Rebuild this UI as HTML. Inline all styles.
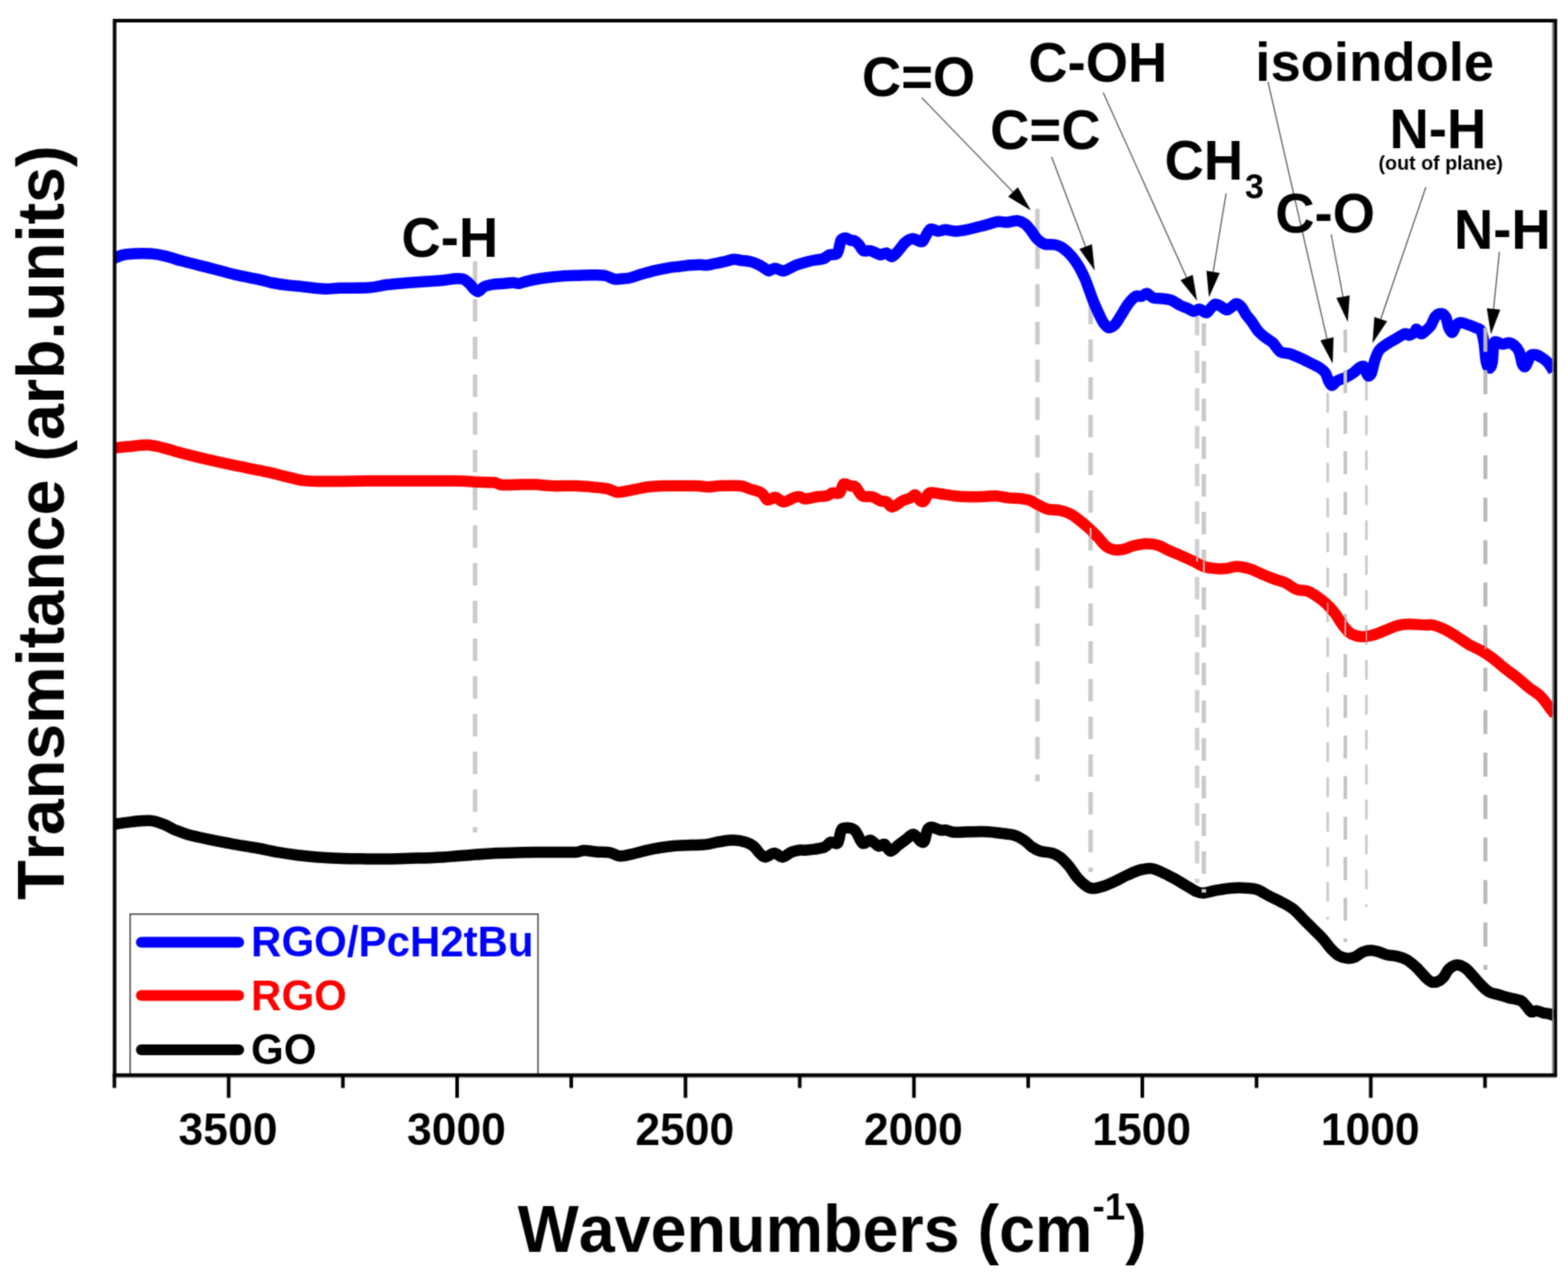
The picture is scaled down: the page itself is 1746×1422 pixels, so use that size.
<!DOCTYPE html>
<html lang="en"><head><meta charset="utf-8"><title>FTIR spectra</title>
<style>
html,body{margin:0;padding:0;background:#fff;}
body{width:1746px;height:1422px;overflow:hidden;}
svg{display:block;font-family:"Liberation Sans",Arial,Helvetica,sans-serif;font-weight:bold;font-kerning:none;}
.lab{font-size:60.6px;fill:#000;}
.tick{font-size:49.5px;fill:#000;text-anchor:middle;}
.ttl{font-size:72px;fill:#000;}
.leg{font-size:46.8px;}
.cv{fill:none;stroke-width:12.5;stroke-linejoin:round;stroke-linecap:butt;}
.ar{stroke:#4a4a4a;stroke-width:1.2;fill:none;}
.ah{fill:#000;stroke:none;}
</style></head><body>
<svg width="1746" height="1422" viewBox="0 0 1746 1422">
<defs><filter id="soft" x="0" y="0" width="1746" height="1422" filterUnits="userSpaceOnUse" color-interpolation-filters="sRGB"><feConvolveMatrix order="3" kernelMatrix="0.0400 0.1200 0.0400 0.1200 0.3600 0.1200 0.0400 0.1200 0.0400" divisor="1" edgeMode="duplicate" preserveAlpha="true"/></filter></defs>
<g id="figure" filter="url(#soft)">
<rect x="0" y="0" width="1746" height="1422" fill="#fff"/>
<defs><mask id="redband" maskUnits="userSpaceOnUse" x="0" y="0" width="1746" height="1422"><path d="M127.8,498.9C130.2,498.6 136.1,497.9 142.2,497.3C148.3,496.8 157.7,495.3 164.4,495.6C171.1,495.9 175.5,497.3 182.2,498.9C188.9,500.5 196.2,503.0 204.4,505.1C212.6,507.2 221.1,509.3 231.1,511.6C241.1,513.9 253.3,516.6 264.4,518.9C275.5,521.2 288.5,523.6 297.8,525.6C307.1,527.6 313.3,529.5 320.0,531.1C326.7,532.7 331.9,534.3 337.8,535.1C343.7,535.9 348.9,535.9 355.6,536.0C362.3,536.1 368.9,536.1 377.8,536.0C386.7,535.9 396.3,535.7 408.9,535.6C421.5,535.5 436.8,535.6 453.3,535.6C469.8,535.6 495.2,535.4 508.0,535.6C520.8,535.8 523.2,536.4 530.2,536.7C537.2,537.0 545.4,536.8 550.2,537.3C555.0,537.8 553.9,539.6 559.1,540.0C564.3,540.4 575.0,539.7 581.3,539.6C587.6,539.5 591.3,539.4 596.9,539.6C602.5,539.9 607.3,540.9 614.7,541.1C622.1,541.4 633.1,540.8 641.3,541.1C649.4,541.4 657.7,542.2 663.6,542.7C669.5,543.2 672.8,543.5 676.9,544.4C681.0,545.3 683.5,548.0 688.0,548.2C692.5,548.4 698.1,546.6 703.6,545.6C709.1,544.6 715.4,543.0 721.3,542.2C727.2,541.5 730.2,541.3 739.1,541.1C748.0,540.9 766.6,540.9 774.7,541.1C782.9,541.3 783.6,542.2 788.0,542.2C792.4,542.2 795.4,541.3 801.3,541.1C807.2,540.9 818.0,540.6 823.6,541.1C829.2,541.6 830.6,543.1 834.7,544.4C838.8,545.7 844.7,546.8 848.0,548.9C851.3,551.0 852.1,555.9 854.7,556.7C857.3,557.5 860.7,553.4 863.6,553.8C866.5,554.2 869.1,558.8 872.4,558.9C875.7,559.0 880.6,555.4 883.6,554.4C886.6,553.4 888.1,552.7 890.2,552.9C892.3,553.1 892.8,555.5 896.0,555.6C899.2,555.7 905.2,553.9 909.3,553.3C913.4,552.7 917.4,552.9 920.4,552.2C923.4,551.5 924.7,549.5 927.1,548.9C929.5,548.3 932.9,550.6 934.9,548.9C936.9,547.2 937.3,540.2 939.3,538.9C941.3,537.6 944.9,540.5 947.1,541.1C949.3,541.7 950.5,540.4 952.7,542.2C954.9,544.1 957.2,550.4 960.4,552.2C963.5,554.1 968.3,552.4 971.6,553.3C974.9,554.2 977.8,556.9 980.4,557.8C983.0,558.7 984.9,557.8 987.1,558.9C989.3,560.0 990.8,564.6 993.8,564.4C996.8,564.2 1001.6,559.5 1004.9,557.8C1008.2,556.1 1011.4,555.5 1013.8,554.4C1016.2,553.3 1017.4,550.5 1019.3,551.1C1021.1,551.7 1023.2,556.7 1024.9,557.8C1026.6,558.9 1027.6,559.3 1029.3,557.8C1031.0,556.3 1031.9,550.2 1034.9,548.9C1037.9,547.6 1042.5,549.5 1047.1,550.0C1051.7,550.5 1057.2,551.7 1062.7,552.2C1068.2,552.8 1074.9,553.2 1080.4,553.3C1086.0,553.4 1091.2,553.1 1096.0,552.9C1100.8,552.7 1104.8,552.0 1109.3,552.2C1113.8,552.5 1118.2,553.9 1122.7,554.4C1127.2,554.9 1131.9,554.6 1136.0,555.1C1140.1,555.6 1143.8,556.1 1147.1,557.3C1150.4,558.5 1152.7,560.6 1156.0,562.2C1159.3,563.8 1163.0,566.1 1167.1,567.1C1171.2,568.1 1176.3,567.5 1180.4,568.4C1184.5,569.2 1188.3,570.6 1191.6,572.2C1194.9,573.8 1196.4,575.0 1200.0,577.8C1203.6,580.6 1209.6,585.6 1213.3,588.9C1217.0,592.2 1219.2,594.6 1222.2,597.8C1225.2,600.9 1228.1,605.4 1231.1,607.8C1234.1,610.2 1236.7,611.6 1240.0,612.2C1243.3,612.8 1247.4,612.3 1251.1,611.6C1254.8,610.9 1258.1,608.8 1262.2,607.8C1266.3,606.8 1271.1,605.7 1275.6,605.6C1280.0,605.5 1284.5,605.8 1288.9,607.1C1293.3,608.4 1297.8,611.3 1302.2,613.3C1306.7,615.3 1311.1,617.0 1315.6,618.9C1320.0,620.8 1324.8,622.9 1328.9,624.9C1333.0,626.9 1335.5,629.3 1340.0,630.7C1344.5,632.1 1351.1,632.9 1355.6,633.3C1360.0,633.7 1363.0,633.3 1366.7,632.9C1370.4,632.5 1373.7,630.6 1377.8,630.7C1381.9,630.8 1386.7,631.9 1391.1,633.3C1395.5,634.7 1400.0,637.0 1404.4,638.9C1408.9,640.8 1413.3,642.7 1417.8,644.4C1422.2,646.1 1426.7,646.8 1431.1,648.9C1435.5,651.0 1440.3,655.2 1444.4,656.7C1448.5,658.2 1451.9,656.9 1455.6,658.2C1459.3,659.5 1463.0,661.9 1466.7,664.4C1470.4,666.9 1474.5,670.1 1477.8,673.3C1481.1,676.4 1483.7,679.4 1486.7,683.3C1489.7,687.2 1492.6,693.0 1495.6,696.7C1498.5,700.4 1501.1,703.6 1504.4,705.6C1507.7,707.6 1511.5,708.6 1515.6,708.9C1519.7,709.1 1524.5,708.2 1528.9,707.1C1533.3,706.0 1537.8,703.9 1542.2,702.2C1546.7,700.5 1551.1,697.9 1555.6,696.7C1560.0,695.5 1563.5,695.2 1568.9,695.1C1574.3,695.0 1583.5,695.9 1588.0,696.0C1592.5,696.1 1592.3,695.1 1595.8,696.0C1599.3,696.9 1604.7,699.0 1609.1,701.1C1613.5,703.2 1618.0,706.1 1622.4,708.9C1626.9,711.7 1631.3,715.2 1635.8,717.8C1640.2,720.4 1644.7,721.8 1649.1,724.4C1653.5,727.0 1658.0,730.0 1662.4,733.3C1666.9,736.6 1671.3,740.9 1675.8,744.4C1680.2,747.9 1684.7,750.9 1689.1,754.4C1693.5,757.9 1698.0,762.1 1702.4,765.6C1706.9,769.1 1711.7,771.5 1715.8,775.6C1719.9,779.7 1724.3,786.7 1726.9,790.0C1729.5,793.3 1730.6,794.7 1731.3,795.6" fill="none" stroke="#fff" stroke-width="11.5" stroke-linejoin="round"/></mask></defs>
<defs><clipPath id="plot"><rect x="127.6" y="22.9" width="1604.0" height="1174.3"/></clipPath></defs>
<g id="legend">
<rect x="144.9" y="1017.9" width="454.2" height="179" fill="#fff" stroke="#555" stroke-width="1.7"/>
<line x1="157.4" y1="1049.3" x2="265.8" y2="1049.3" stroke="#0000ff" stroke-width="12" stroke-linecap="round"/>
<text class="leg" transform="translate(279.6 1065.3) scale(1 1.04)" fill="#0000ff">RGO/PcH2tBu</text>
<line x1="157.4" y1="1108.4" x2="265.8" y2="1108.4" stroke="#ff0000" stroke-width="12" stroke-linecap="round"/>
<text class="leg" transform="translate(279.6 1124.5) scale(1 1.04)" fill="#ff0000">RGO</text>
<line x1="157.4" y1="1169.0" x2="265.8" y2="1169.0" stroke="#000000" stroke-width="12" stroke-linecap="round"/>
<text class="leg" transform="translate(279.6 1184.8) scale(1 1.04)" fill="#000000">GO</text>
</g>
<g id="curves" clip-path="url(#plot)">
<path id="go" class="cv" stroke="#000000" d="M127.8,917.8C130.9,917.3 140.2,915.8 146.7,915.1C153.2,914.4 160.8,913.3 166.7,913.8C172.6,914.2 177.4,916.0 182.2,917.8C187.0,919.6 191.1,922.5 195.6,924.4C200.1,926.3 203.0,927.6 208.9,929.3C214.8,931.0 222.9,932.7 231.1,934.4C239.2,936.1 248.9,938.0 257.8,939.6C266.7,941.2 275.9,942.5 284.4,944.0C292.9,945.5 301.1,947.5 308.9,948.9C316.7,950.3 323.7,951.3 331.1,952.2C338.5,953.1 344.8,953.8 353.3,954.4C361.8,955.0 372.9,955.7 382.2,956.0C391.5,956.3 400.0,956.3 408.9,956.4C417.8,956.5 426.4,956.5 435.6,956.4C444.9,956.3 454.8,955.9 464.4,955.6C474.0,955.3 486.0,954.8 493.3,954.4C500.6,954.0 501.9,953.8 508.0,953.3C514.1,952.8 522.8,952.1 530.2,951.6C537.6,951.1 543.9,950.4 552.4,950.0C560.9,949.6 570.9,949.5 581.3,949.3C591.7,949.1 604.7,949.0 614.7,948.9C624.7,948.8 635.4,949.2 641.3,948.9C647.2,948.6 646.5,947.2 650.2,947.1C653.9,947.0 658.8,948.0 663.6,948.4C668.4,948.8 674.7,948.5 679.1,949.3C683.5,950.1 686.1,953.0 690.2,953.3C694.3,953.6 698.8,952.1 703.6,951.1C708.4,950.1 713.9,948.3 719.1,947.1C724.3,945.9 729.2,944.9 734.7,944.0C740.2,943.1 746.5,942.3 752.4,941.8C758.3,941.3 764.6,941.3 770.2,941.1C775.8,940.9 780.6,941.0 785.8,940.4C791.0,939.8 796.1,938.1 801.3,937.3C806.5,936.5 812.1,935.5 816.9,935.6C821.7,935.7 826.5,936.7 830.2,937.8C833.9,938.9 836.5,940.2 839.1,942.2C841.7,944.2 843.6,948.0 845.8,950.0C848.0,952.0 849.6,954.4 852.4,954.4C855.2,954.4 859.2,950.0 862.4,950.0C865.5,950.0 868.1,954.6 871.3,954.4C874.4,954.2 878.1,950.2 881.3,948.9C884.4,947.6 887.8,947.1 890.2,946.7C892.7,946.3 893.2,946.9 896.0,946.7C898.8,946.5 903.4,946.2 907.1,945.6C910.8,945.0 915.2,944.6 918.2,943.3C921.2,942.0 922.5,938.5 924.9,937.8C927.3,937.1 930.9,940.8 932.7,938.9C934.6,937.0 934.9,929.5 936.0,926.7C937.1,923.9 936.7,922.6 939.3,922.2C941.9,921.8 948.1,921.6 951.6,924.4C955.1,927.2 957.5,937.0 960.4,938.9C963.3,940.8 966.3,935.0 969.3,935.6C972.3,936.2 975.6,941.5 978.2,942.2C980.8,942.9 982.7,939.1 984.9,940.0C987.1,940.9 989.0,947.6 991.6,947.8C994.2,948.0 997.5,943.3 1000.4,941.1C1003.3,938.9 1006.5,936.4 1009.3,934.4C1012.1,932.4 1014.5,928.5 1017.1,928.9C1019.7,929.3 1022.9,935.4 1024.9,936.7C1026.9,938.0 1028.0,938.8 1029.3,936.7C1030.6,934.7 1031.4,927.0 1032.7,924.4C1034.0,921.8 1034.7,921.1 1037.1,921.1C1039.5,921.1 1044.3,923.9 1047.1,924.4C1049.9,924.9 1051.2,924.0 1053.8,924.4C1056.4,924.8 1058.3,926.4 1062.7,926.7C1067.1,927.0 1074.1,926.3 1080.4,926.2C1086.7,926.1 1094.8,925.9 1100.4,926.2C1106.0,926.5 1109.0,927.2 1113.8,927.8C1118.6,928.4 1124.9,928.7 1129.3,930.0C1133.7,931.3 1137.1,933.4 1140.4,935.6C1143.7,937.8 1146.3,941.3 1149.3,943.3C1152.3,945.3 1154.5,946.7 1158.2,947.8C1161.9,948.9 1167.9,948.9 1171.6,950.0C1175.3,951.1 1177.5,952.2 1180.4,954.4C1183.4,956.6 1186.3,959.8 1189.3,963.3C1192.3,966.8 1196.4,973.2 1198.2,975.6C1200.0,978.0 1198.6,976.3 1200.0,977.8C1201.4,979.3 1204.1,982.5 1206.7,984.4C1209.3,986.3 1211.9,988.9 1215.6,989.3C1219.3,989.7 1224.5,988.1 1228.9,986.7C1233.3,985.3 1237.8,983.2 1242.2,981.1C1246.7,979.0 1251.1,976.4 1255.6,974.4C1260.0,972.4 1264.5,970.1 1268.9,968.9C1273.3,967.7 1278.1,966.7 1282.2,967.1C1286.3,967.5 1289.2,969.3 1293.3,971.1C1297.4,972.9 1302.2,975.4 1306.7,977.8C1311.2,980.2 1315.9,983.2 1320.0,985.6C1324.1,988.0 1327.8,990.7 1331.1,992.2C1334.4,993.7 1335.9,994.6 1340.0,994.4C1344.1,994.2 1350.4,992.0 1355.6,991.1C1360.8,990.2 1365.5,989.3 1371.1,988.9C1376.6,988.5 1384.1,988.6 1388.9,988.9C1393.7,989.2 1395.9,989.2 1400.0,990.7C1404.1,992.2 1408.8,995.5 1413.3,997.8C1417.8,1000.1 1422.2,1002.0 1426.7,1004.4C1431.2,1006.8 1435.9,1009.1 1440.0,1012.2C1444.1,1015.4 1447.4,1019.6 1451.1,1023.3C1454.8,1027.0 1458.5,1030.7 1462.2,1034.4C1465.9,1038.1 1470.0,1041.9 1473.3,1045.6C1476.6,1049.3 1479.2,1053.6 1482.2,1056.7C1485.2,1059.8 1488.1,1062.7 1491.1,1064.4C1494.1,1066.1 1497.0,1066.9 1500.0,1067.1C1503.0,1067.3 1505.9,1066.8 1508.9,1065.6C1511.9,1064.4 1514.8,1061.2 1517.8,1060.0C1520.8,1058.8 1523.7,1058.2 1526.7,1058.2C1529.7,1058.2 1532.6,1059.2 1535.6,1060.0C1538.5,1060.8 1541.1,1062.5 1544.4,1063.3C1547.7,1064.1 1551.9,1064.0 1555.6,1064.9C1559.3,1065.8 1563.0,1066.8 1566.7,1068.9C1570.4,1071.1 1574.2,1074.5 1577.8,1077.8C1581.3,1081.1 1585.4,1086.3 1588.0,1088.9C1590.6,1091.5 1591.6,1092.6 1593.6,1093.3C1595.6,1094.0 1598.0,1094.0 1600.2,1093.3C1602.4,1092.6 1604.7,1091.3 1606.9,1088.9C1609.1,1086.5 1611.0,1081.3 1613.6,1078.9C1616.2,1076.5 1619.5,1074.6 1622.4,1074.4C1625.4,1074.2 1628.3,1075.8 1631.3,1077.8C1634.3,1079.8 1637.2,1083.5 1640.2,1086.7C1643.2,1089.9 1646.1,1093.8 1649.1,1096.7C1652.1,1099.7 1654.7,1102.6 1658.0,1104.4C1661.3,1106.2 1665.4,1106.7 1669.1,1107.8C1672.8,1108.9 1676.1,1110.0 1680.2,1111.1C1684.3,1112.2 1690.3,1112.7 1693.6,1114.4C1696.9,1116.1 1698.3,1119.0 1700.2,1121.1C1702.1,1123.1 1702.9,1126.0 1704.7,1126.7C1706.5,1127.5 1709.1,1125.4 1711.3,1125.6C1713.5,1125.8 1715.8,1127.2 1718.0,1127.8C1720.2,1128.3 1722.5,1128.4 1724.7,1128.9C1726.9,1129.5 1730.2,1130.7 1731.3,1131.1"/>
<g id="guides-a">
<line x1="529.0" y1="291.0" x2="529.0" y2="927.0" stroke="#cacaca" stroke-width="5.00" stroke-dasharray="25 17"/>
<line x1="1155.2" y1="232.5" x2="1155.2" y2="870.0" stroke="#cacaca" stroke-width="5.00" stroke-dasharray="25 17"/>
<line x1="1214.4" y1="336.0" x2="1214.4" y2="971.0" stroke="#cacaca" stroke-width="5.00" stroke-dasharray="25 17"/>
<line x1="1333.0" y1="348.5" x2="1333.0" y2="983.0" stroke="#cfcfcf" stroke-width="5.00" stroke-dasharray="25 17"/>
<line x1="1340.5" y1="360.0" x2="1340.5" y2="994.0" stroke="#cacaca" stroke-width="5.00" stroke-dasharray="25 17"/>
<line x1="1478.4" y1="437.5" x2="1478.4" y2="1024.0" stroke="#cdcdcd" stroke-width="3.00" stroke-dasharray="22 16.9"/>
<line x1="1521.5" y1="423.7" x2="1521.5" y2="1010.0" stroke="#cdcdcd" stroke-width="3.00" stroke-dasharray="22 16.9"/>
</g>
<path id="rgo-pc" class="cv" stroke="#0000ff" d="M127.5,287.5C129.6,286.8 133.2,284.1 140.0,283.3C146.8,282.5 160.5,282.1 168.3,282.5C176.1,282.9 180.9,284.4 186.7,285.8C192.5,287.2 195.0,288.6 203.3,290.8C211.6,293.0 227.0,296.7 236.7,299.2C246.4,301.7 253.4,303.9 261.7,305.8C270.0,307.7 279.8,309.3 286.7,310.8C293.6,312.3 297.8,313.9 303.3,315.0C308.9,316.1 314.4,316.8 320.0,317.5C325.6,318.2 329.8,318.5 336.7,319.2C343.6,319.9 354.8,321.4 361.7,321.7C368.6,322.0 370.1,321.0 378.3,320.8C386.5,320.6 402.2,320.9 411.0,320.3C419.8,319.7 424.1,317.9 431.0,317.0C437.9,316.1 444.9,315.6 452.7,315.0C460.5,314.4 470.8,313.8 477.7,313.3C484.6,312.8 489.3,312.5 494.3,312.0C499.3,311.5 504.1,310.5 507.7,310.3C511.3,310.1 513.5,309.9 516.0,310.8C518.5,311.7 520.8,314.0 522.7,315.8C524.7,317.6 526.0,320.2 527.7,321.7C529.4,323.2 530.8,325.1 532.7,324.7C534.6,324.3 536.5,320.5 539.3,319.2C542.1,317.9 545.7,317.3 549.3,316.7C552.9,316.1 557.4,316.1 561.0,315.8C564.6,315.5 568.2,314.7 571.0,314.7C573.8,314.7 575.2,316.0 577.7,315.8C580.2,315.6 581.8,314.3 586.0,313.3C590.2,312.3 597.2,310.9 602.7,310.0C608.2,309.1 612.4,308.6 619.3,308.0C626.2,307.4 637.3,307.0 644.3,306.7C651.2,306.4 656.0,306.2 661.0,306.3C666.0,306.4 670.4,306.2 674.3,307.0C678.2,307.8 681.0,310.2 684.3,310.8C687.6,311.4 691.3,310.6 694.3,310.3C697.2,310.0 698.5,310.1 702.0,309.2C705.5,308.3 710.8,306.3 715.3,305.0C719.8,303.7 724.0,302.4 728.7,301.3C733.4,300.2 739.0,299.1 743.7,298.3C748.4,297.5 752.8,297.2 757.0,296.7C761.2,296.2 765.1,295.6 768.7,295.3C772.3,295.0 775.7,294.7 778.7,294.7C781.8,294.7 784.2,295.5 787.0,295.3C789.8,295.1 792.2,294.3 795.3,293.7C798.3,293.1 801.7,292.5 805.3,291.7C808.9,290.9 813.7,289.0 817.0,288.7C820.3,288.4 822.2,289.6 825.3,290.0C828.3,290.4 832.0,290.5 835.3,291.3C838.6,292.1 842.5,293.7 845.3,295.0C848.1,296.3 850.2,298.1 852.0,299.2C853.8,300.3 854.4,301.8 856.2,301.7C858.0,301.6 860.3,298.7 862.8,298.7C865.3,298.7 869.1,301.3 871.2,301.7C873.3,302.1 872.9,301.8 875.3,300.8C877.6,299.8 882.2,297.1 885.3,295.8C888.4,294.5 890.4,294.0 893.7,293.0C897.0,292.0 901.4,290.8 905.3,290.0C909.2,289.2 913.9,289.1 917.0,288.0C920.1,286.9 921.2,284.6 923.7,283.7C926.2,282.8 930.1,284.5 932.0,282.5C933.9,280.5 934.5,274.3 935.3,271.7C936.1,269.1 935.9,267.8 937.0,266.7C938.1,265.6 940.3,264.9 942.0,265.0C943.7,265.1 945.3,266.9 947.0,267.5C948.7,268.1 950.3,267.3 952.0,268.3C953.7,269.3 955.5,271.5 957.0,273.3C958.5,275.1 959.2,278.2 961.2,279.2C963.2,280.2 966.4,278.8 968.7,279.2C971.1,279.6 973.4,280.9 975.3,281.7C977.2,282.4 978.3,283.7 980.3,283.7C982.2,283.7 984.9,281.3 987.0,281.7C989.1,282.1 990.9,286.1 993.0,285.8C995.1,285.5 997.2,282.6 999.7,280.0C1002.2,277.4 1005.2,272.4 1008.0,270.0C1010.8,267.6 1013.2,265.9 1016.3,265.8C1019.3,265.7 1023.9,269.6 1026.3,269.2C1028.7,268.8 1028.8,265.7 1030.5,263.3C1032.2,260.9 1033.9,256.0 1036.3,255.0C1038.7,254.0 1041.9,257.4 1044.7,257.5C1047.5,257.6 1050.0,255.8 1053.0,255.8C1056.0,255.8 1059.1,257.5 1063.0,257.5C1066.9,257.5 1072.1,256.6 1076.3,255.8C1080.5,255.1 1084.1,254.0 1088.0,253.0C1091.9,252.0 1095.8,251.1 1099.7,250.0C1103.6,248.9 1107.7,247.1 1111.3,246.7C1114.9,246.3 1117.7,247.7 1121.3,247.5C1124.9,247.3 1129.7,245.5 1133.0,245.8C1136.3,246.1 1138.8,247.4 1141.3,249.2C1143.8,251.0 1145.8,253.9 1148.0,256.7C1150.2,259.5 1152.2,263.3 1154.7,265.8C1157.2,268.3 1159.7,270.6 1163.0,271.7C1166.3,272.8 1171.4,271.8 1174.7,272.5C1178.0,273.2 1180.0,273.7 1183.0,275.8C1186.0,277.9 1190.0,281.5 1193.0,285.0C1196.0,288.5 1198.8,292.5 1201.3,296.7C1203.8,300.9 1206.0,305.6 1208.0,310.0C1210.0,314.4 1211.3,318.9 1213.0,323.3C1214.7,327.8 1216.0,332.0 1218.0,336.7C1220.0,341.4 1222.8,347.7 1224.7,351.7C1226.7,355.7 1228.0,358.6 1229.7,360.8C1231.4,363.0 1232.8,364.9 1234.7,365.0C1236.6,365.1 1239.1,363.9 1241.3,361.7C1243.5,359.5 1245.5,355.6 1248.0,351.7C1250.5,347.8 1253.5,341.9 1256.3,338.3C1259.1,334.7 1262.2,331.4 1264.7,330.0C1267.2,328.6 1269.2,330.6 1271.3,330.0C1273.4,329.4 1275.1,326.4 1277.2,326.7C1279.3,327.0 1281.2,330.7 1284.0,331.7C1286.8,332.7 1290.7,332.1 1294.0,332.5C1297.3,332.9 1300.7,332.9 1304.0,334.2C1307.3,335.4 1311.0,338.5 1314.0,340.0C1317.0,341.5 1319.8,342.2 1322.3,343.3C1324.8,344.4 1326.8,346.6 1329.0,346.7C1331.2,346.8 1333.3,343.9 1335.7,344.2C1338.1,344.5 1341.1,348.4 1343.2,348.3C1345.3,348.2 1346.5,344.9 1348.2,343.3C1349.9,341.7 1351.4,339.1 1353.2,338.7C1355.0,338.3 1356.9,339.8 1359.0,340.8C1361.1,341.9 1363.8,344.7 1365.7,345.0C1367.7,345.3 1368.9,343.6 1370.7,342.5C1372.5,341.4 1374.6,338.4 1376.5,338.3C1378.4,338.2 1380.5,339.8 1382.3,341.7C1384.1,343.6 1385.3,347.2 1387.3,350.0C1389.2,352.8 1391.8,355.2 1394.0,358.3C1396.2,361.4 1398.2,365.4 1400.7,368.3C1403.2,371.2 1406.2,373.6 1409.0,375.8C1411.8,378.0 1414.5,379.1 1417.3,381.7C1420.1,384.3 1422.4,389.6 1425.7,391.7C1429.0,393.8 1433.1,392.8 1437.3,394.2C1441.5,395.6 1446.8,398.2 1450.7,400.0C1454.6,401.8 1457.7,403.5 1460.7,405.0C1463.8,406.5 1466.5,407.5 1469.0,409.2C1471.5,410.9 1473.9,412.4 1475.7,415.0C1477.5,417.6 1478.5,422.6 1479.8,425.0C1481.0,427.4 1481.7,429.3 1483.2,429.2C1484.7,429.1 1486.4,425.7 1489.0,424.2C1491.6,422.7 1496.0,421.5 1499.0,420.0C1502.0,418.5 1504.8,416.8 1507.3,415.0C1509.8,413.2 1512.0,410.3 1514.0,409.2C1516.0,408.1 1517.5,406.8 1519.0,408.3C1520.5,409.8 1521.8,417.2 1523.2,418.3C1524.6,419.4 1526.0,417.8 1527.3,415.0C1528.5,412.2 1529.3,405.9 1530.7,401.7C1532.1,397.5 1533.5,393.1 1535.7,390.0C1537.9,386.9 1541.0,385.4 1544.0,383.3C1547.0,381.2 1550.7,379.4 1554.0,377.5C1557.3,375.6 1561.5,372.4 1564.0,371.7C1566.5,371.0 1567.2,373.6 1569.0,373.3C1570.8,373.0 1573.6,371.1 1575.0,370.0C1576.4,368.9 1576.2,366.4 1577.5,366.7C1578.8,367.0 1580.7,371.6 1582.5,371.7C1584.3,371.8 1586.5,369.0 1588.3,367.5C1590.1,366.0 1591.6,365.0 1593.3,362.5C1595.0,360.0 1596.3,354.7 1598.3,352.5C1600.2,350.3 1603.0,349.1 1605.0,349.2C1607.0,349.3 1608.6,350.7 1610.0,353.3C1611.4,355.9 1612.0,362.2 1613.3,365.0C1614.5,367.8 1616.1,370.6 1617.5,370.0C1618.9,369.4 1620.2,363.5 1621.7,361.7C1623.2,359.9 1624.5,359.2 1626.7,359.2C1628.9,359.2 1632.2,360.7 1635.0,361.7C1637.8,362.7 1640.9,363.9 1643.3,365.0C1645.7,366.1 1647.7,365.5 1649.2,368.3C1650.7,371.1 1651.5,375.9 1652.5,381.7C1653.5,387.5 1654.0,398.6 1655.0,403.3C1656.0,408.0 1657.2,410.0 1658.3,410.0C1659.4,410.0 1660.9,407.8 1661.7,403.3C1662.5,398.9 1662.5,387.1 1663.3,383.3C1664.1,379.6 1665.0,380.8 1666.7,380.8C1668.4,380.8 1671.1,383.2 1673.3,383.3C1675.5,383.4 1677.8,381.4 1680.0,381.7C1682.2,382.0 1684.8,383.3 1686.7,385.0C1688.7,386.7 1690.3,388.4 1691.7,391.7C1693.1,395.0 1693.9,402.2 1695.0,405.0C1696.1,407.8 1697.2,408.9 1698.3,408.3C1699.4,407.8 1700.7,403.8 1701.7,401.7C1702.7,399.6 1702.8,396.9 1704.2,395.8C1705.6,394.7 1707.9,394.6 1710.0,395.0C1712.1,395.4 1714.5,396.9 1716.7,398.3C1718.9,399.7 1721.1,400.8 1723.3,403.3C1725.5,405.8 1728.9,411.6 1730.0,413.3"/>
<g id="guides-b">
<line x1="1498.0" y1="367.0" x2="1498.0" y2="1049.0" stroke="#c4c4c4" stroke-width="4.00" stroke-dasharray="25.5 19.7"/>
<line x1="1654.0" y1="365.0" x2="1654.0" y2="1080.0" stroke="#b9b9b9" stroke-width="4.50" stroke-dasharray="26.7 20.6"/>
</g>
<path id="rgo" class="cv" stroke="#ff0000" d="M127.8,498.9C130.2,498.6 136.1,497.9 142.2,497.3C148.3,496.8 157.7,495.3 164.4,495.6C171.1,495.9 175.5,497.3 182.2,498.9C188.9,500.5 196.2,503.0 204.4,505.1C212.6,507.2 221.1,509.3 231.1,511.6C241.1,513.9 253.3,516.6 264.4,518.9C275.5,521.2 288.5,523.6 297.8,525.6C307.1,527.6 313.3,529.5 320.0,531.1C326.7,532.7 331.9,534.3 337.8,535.1C343.7,535.9 348.9,535.9 355.6,536.0C362.3,536.1 368.9,536.1 377.8,536.0C386.7,535.9 396.3,535.7 408.9,535.6C421.5,535.5 436.8,535.6 453.3,535.6C469.8,535.6 495.2,535.4 508.0,535.6C520.8,535.8 523.2,536.4 530.2,536.7C537.2,537.0 545.4,536.8 550.2,537.3C555.0,537.8 553.9,539.6 559.1,540.0C564.3,540.4 575.0,539.7 581.3,539.6C587.6,539.5 591.3,539.4 596.9,539.6C602.5,539.9 607.3,540.9 614.7,541.1C622.1,541.4 633.1,540.8 641.3,541.1C649.4,541.4 657.7,542.2 663.6,542.7C669.5,543.2 672.8,543.5 676.9,544.4C681.0,545.3 683.5,548.0 688.0,548.2C692.5,548.4 698.1,546.6 703.6,545.6C709.1,544.6 715.4,543.0 721.3,542.2C727.2,541.5 730.2,541.3 739.1,541.1C748.0,540.9 766.6,540.9 774.7,541.1C782.9,541.3 783.6,542.2 788.0,542.2C792.4,542.2 795.4,541.3 801.3,541.1C807.2,540.9 818.0,540.6 823.6,541.1C829.2,541.6 830.6,543.1 834.7,544.4C838.8,545.7 844.7,546.8 848.0,548.9C851.3,551.0 852.1,555.9 854.7,556.7C857.3,557.5 860.7,553.4 863.6,553.8C866.5,554.2 869.1,558.8 872.4,558.9C875.7,559.0 880.6,555.4 883.6,554.4C886.6,553.4 888.1,552.7 890.2,552.9C892.3,553.1 892.8,555.5 896.0,555.6C899.2,555.7 905.2,553.9 909.3,553.3C913.4,552.7 917.4,552.9 920.4,552.2C923.4,551.5 924.7,549.5 927.1,548.9C929.5,548.3 932.9,550.6 934.9,548.9C936.9,547.2 937.3,540.2 939.3,538.9C941.3,537.6 944.9,540.5 947.1,541.1C949.3,541.7 950.5,540.4 952.7,542.2C954.9,544.1 957.2,550.4 960.4,552.2C963.5,554.1 968.3,552.4 971.6,553.3C974.9,554.2 977.8,556.9 980.4,557.8C983.0,558.7 984.9,557.8 987.1,558.9C989.3,560.0 990.8,564.6 993.8,564.4C996.8,564.2 1001.6,559.5 1004.9,557.8C1008.2,556.1 1011.4,555.5 1013.8,554.4C1016.2,553.3 1017.4,550.5 1019.3,551.1C1021.1,551.7 1023.2,556.7 1024.9,557.8C1026.6,558.9 1027.6,559.3 1029.3,557.8C1031.0,556.3 1031.9,550.2 1034.9,548.9C1037.9,547.6 1042.5,549.5 1047.1,550.0C1051.7,550.5 1057.2,551.7 1062.7,552.2C1068.2,552.8 1074.9,553.2 1080.4,553.3C1086.0,553.4 1091.2,553.1 1096.0,552.9C1100.8,552.7 1104.8,552.0 1109.3,552.2C1113.8,552.5 1118.2,553.9 1122.7,554.4C1127.2,554.9 1131.9,554.6 1136.0,555.1C1140.1,555.6 1143.8,556.1 1147.1,557.3C1150.4,558.5 1152.7,560.6 1156.0,562.2C1159.3,563.8 1163.0,566.1 1167.1,567.1C1171.2,568.1 1176.3,567.5 1180.4,568.4C1184.5,569.2 1188.3,570.6 1191.6,572.2C1194.9,573.8 1196.4,575.0 1200.0,577.8C1203.6,580.6 1209.6,585.6 1213.3,588.9C1217.0,592.2 1219.2,594.6 1222.2,597.8C1225.2,600.9 1228.1,605.4 1231.1,607.8C1234.1,610.2 1236.7,611.6 1240.0,612.2C1243.3,612.8 1247.4,612.3 1251.1,611.6C1254.8,610.9 1258.1,608.8 1262.2,607.8C1266.3,606.8 1271.1,605.7 1275.6,605.6C1280.0,605.5 1284.5,605.8 1288.9,607.1C1293.3,608.4 1297.8,611.3 1302.2,613.3C1306.7,615.3 1311.1,617.0 1315.6,618.9C1320.0,620.8 1324.8,622.9 1328.9,624.9C1333.0,626.9 1335.5,629.3 1340.0,630.7C1344.5,632.1 1351.1,632.9 1355.6,633.3C1360.0,633.7 1363.0,633.3 1366.7,632.9C1370.4,632.5 1373.7,630.6 1377.8,630.7C1381.9,630.8 1386.7,631.9 1391.1,633.3C1395.5,634.7 1400.0,637.0 1404.4,638.9C1408.9,640.8 1413.3,642.7 1417.8,644.4C1422.2,646.1 1426.7,646.8 1431.1,648.9C1435.5,651.0 1440.3,655.2 1444.4,656.7C1448.5,658.2 1451.9,656.9 1455.6,658.2C1459.3,659.5 1463.0,661.9 1466.7,664.4C1470.4,666.9 1474.5,670.1 1477.8,673.3C1481.1,676.4 1483.7,679.4 1486.7,683.3C1489.7,687.2 1492.6,693.0 1495.6,696.7C1498.5,700.4 1501.1,703.6 1504.4,705.6C1507.7,707.6 1511.5,708.6 1515.6,708.9C1519.7,709.1 1524.5,708.2 1528.9,707.1C1533.3,706.0 1537.8,703.9 1542.2,702.2C1546.7,700.5 1551.1,697.9 1555.6,696.7C1560.0,695.5 1563.5,695.2 1568.9,695.1C1574.3,695.0 1583.5,695.9 1588.0,696.0C1592.5,696.1 1592.3,695.1 1595.8,696.0C1599.3,696.9 1604.7,699.0 1609.1,701.1C1613.5,703.2 1618.0,706.1 1622.4,708.9C1626.9,711.7 1631.3,715.2 1635.8,717.8C1640.2,720.4 1644.7,721.8 1649.1,724.4C1653.5,727.0 1658.0,730.0 1662.4,733.3C1666.9,736.6 1671.3,740.9 1675.8,744.4C1680.2,747.9 1684.7,750.9 1689.1,754.4C1693.5,757.9 1698.0,762.1 1702.4,765.6C1706.9,769.1 1711.7,771.5 1715.8,775.6C1719.9,779.7 1724.3,786.7 1726.9,790.0C1729.5,793.3 1730.6,794.7 1731.3,795.6"/>
<g id="guides-hi" mask="url(#redband)">
<line x1="529.0" y1="291.0" x2="529.0" y2="927.0" stroke="#c9dcdc" stroke-width="1.80" stroke-dasharray="25 17"/>
<line x1="1155.2" y1="232.5" x2="1155.2" y2="870.0" stroke="#c9dcdc" stroke-width="1.80" stroke-dasharray="25 17"/>
<line x1="1214.4" y1="336.0" x2="1214.4" y2="971.0" stroke="#c9dcdc" stroke-width="1.80" stroke-dasharray="25 17"/>
<line x1="1333.0" y1="348.5" x2="1333.0" y2="983.0" stroke="#c9dcdc" stroke-width="1.80" stroke-dasharray="25 17"/>
<line x1="1340.5" y1="360.0" x2="1340.5" y2="994.0" stroke="#c9dcdc" stroke-width="1.80" stroke-dasharray="25 17"/>
<line x1="1478.4" y1="437.5" x2="1478.4" y2="1024.0" stroke="#c9dcdc" stroke-width="1.08" stroke-dasharray="22 16.9"/>
<line x1="1498.0" y1="367.0" x2="1498.0" y2="1049.0" stroke="#c9dcdc" stroke-width="1.44" stroke-dasharray="25.5 19.7"/>
<line x1="1521.5" y1="423.7" x2="1521.5" y2="1010.0" stroke="#c9dcdc" stroke-width="1.08" stroke-dasharray="22 16.9"/>
<line x1="1654.0" y1="365.0" x2="1654.0" y2="1080.0" stroke="#c9dcdc" stroke-width="1.62" stroke-dasharray="26.7 20.6"/>
</g>
</g>
<g id="axes" stroke="#000" fill="none">
<line x1="1729.3999999999999" y1="22.9" x2="1729.3999999999999" y2="1197.2" stroke="#808080" stroke-width="2.2"/>
<line x1="127.6" y1="1199.7" x2="1733.3999999999999" y2="1199.7" stroke="#b4b4b4" stroke-width="1.6"/>
<polyline points="127.6,1197.2 127.6,22.9 1733.8999999999999,22.9" stroke-width="4.0" stroke-linejoin="miter"/>
<line x1="1732.1" y1="22.9" x2="1732.1" y2="1197.2" stroke-width="3.5"/>
<line x1="125.6" y1="1197.2" x2="1733.8999999999999" y2="1197.2" stroke-width="4.0"/>
<line x1="127.4" y1="1197.2" x2="127.4" y2="1211.5" stroke-width="4"/>
<line x1="254.6" y1="1197.2" x2="254.6" y2="1222.5" stroke-width="4"/>
<line x1="381.8" y1="1197.2" x2="381.8" y2="1211.5" stroke-width="4"/>
<line x1="509.0" y1="1197.2" x2="509.0" y2="1222.5" stroke-width="4"/>
<line x1="636.1" y1="1197.2" x2="636.1" y2="1211.5" stroke-width="4"/>
<line x1="763.3" y1="1197.2" x2="763.3" y2="1222.5" stroke-width="4"/>
<line x1="890.5" y1="1197.2" x2="890.5" y2="1211.5" stroke-width="4"/>
<line x1="1017.7" y1="1197.2" x2="1017.7" y2="1222.5" stroke-width="4"/>
<line x1="1144.9" y1="1197.2" x2="1144.9" y2="1211.5" stroke-width="4"/>
<line x1="1272.0" y1="1197.2" x2="1272.0" y2="1222.5" stroke-width="4"/>
<line x1="1399.2" y1="1197.2" x2="1399.2" y2="1211.5" stroke-width="4"/>
<line x1="1526.4" y1="1197.2" x2="1526.4" y2="1222.5" stroke-width="4"/>
<line x1="1653.6" y1="1197.2" x2="1653.6" y2="1211.5" stroke-width="4"/>
</g>
<g id="ticklabels">
<text class="tick" x="253.9" y="1275.1">3500</text>
<text class="tick" x="508.3" y="1275.1">3000</text>
<text class="tick" x="762.6" y="1275.1">2500</text>
<text class="tick" x="1017.0" y="1275.1">2000</text>
<text class="tick" x="1271.3" y="1275.1">1500</text>
<text class="tick" x="1525.7" y="1275.1">1000</text>
</g>
<text class="ttl" transform="translate(576.5 1394.2) scale(1 1.025)">Wavenumbers (cm<tspan font-size="41px" dy="-35.5">-1</tspan><tspan dy="35.5">)</tspan></text>
<text class="ttl" transform="translate(71.2 1002) rotate(-90) scale(1 1.025)">Transmitance (arb.units)</text>
<g id="arrows">
<line class="ar" x1="1026.2" y1="108.7" x2="1128.0" y2="213.8"/>
<polygon class="ah" points="1147.8,234.3 1122.6,219.0 1133.4,208.6"/>
<line class="ar" x1="1171.0" y1="174.8" x2="1208.9" y2="274.7"/>
<polygon class="ah" points="1219.0,301.3 1201.9,277.3 1215.9,272.0"/>
<line class="ar" x1="1228.4" y1="102.9" x2="1321.3" y2="309.0"/>
<polygon class="ah" points="1333.0,335.0 1314.5,312.1 1328.1,305.9"/>
<line class="ar" x1="1365.3" y1="215.3" x2="1350.8" y2="302.8"/>
<polygon class="ah" points="1346.2,330.9 1343.4,301.6 1358.2,304.0"/>
<line class="ar" x1="1411.9" y1="91.2" x2="1477.6" y2="377.2"/>
<polygon class="ah" points="1484.0,405.0 1470.3,378.9 1484.9,375.5"/>
<line class="ar" x1="1482.3" y1="261.0" x2="1495.5" y2="330.4"/>
<polygon class="ah" points="1500.8,358.4 1488.1,331.8 1502.9,329.0"/>
<line class="ar" x1="1587.7" y1="208.5" x2="1537.5" y2="355.3"/>
<polygon class="ah" points="1528.3,382.3 1530.4,352.9 1544.6,357.8"/>
<line class="ar" x1="1669.6" y1="280.5" x2="1663.1" y2="343.9"/>
<polygon class="ah" points="1660.2,372.3 1655.6,343.2 1670.6,344.7"/>
</g>
<g id="labels">
<text class="lab" transform="translate(447.0 285.8) scale(1 1.04)">C-H</text>
<text class="lab" transform="translate(959.7 107.4) scale(1 1.04)">C=O</text>
<text class="lab" transform="translate(1102.5 166.3) scale(1 1.04)">C=C</text>
<text class="lab" transform="translate(1145.0 90.7) scale(1 1.04)">C-OH</text>
<text class="lab" transform="translate(1420.0 258.5) scale(1 1.04)">C-O</text>
<text class="lab" transform="translate(1397.8 89.9) scale(1 1.0)">isoindole</text>
<text class="lab" transform="translate(1547.3 164.8) scale(1 1.04)">N-H</text>
<text class="lab" transform="translate(1619.0 277.2) scale(1 1.04)">N-H</text>
<text class="lab" transform="translate(1296.8 199.8) scale(1 1.04)">CH<tspan font-size="38px" dx="2" dy="20.5">3</tspan></text>
<text class="oop" transform="translate(1535 188.8) scale(1 1.0)" font-size="21.9px" fill="#000">(out of plane)</text>
</g>
</g>
</svg></body></html>
